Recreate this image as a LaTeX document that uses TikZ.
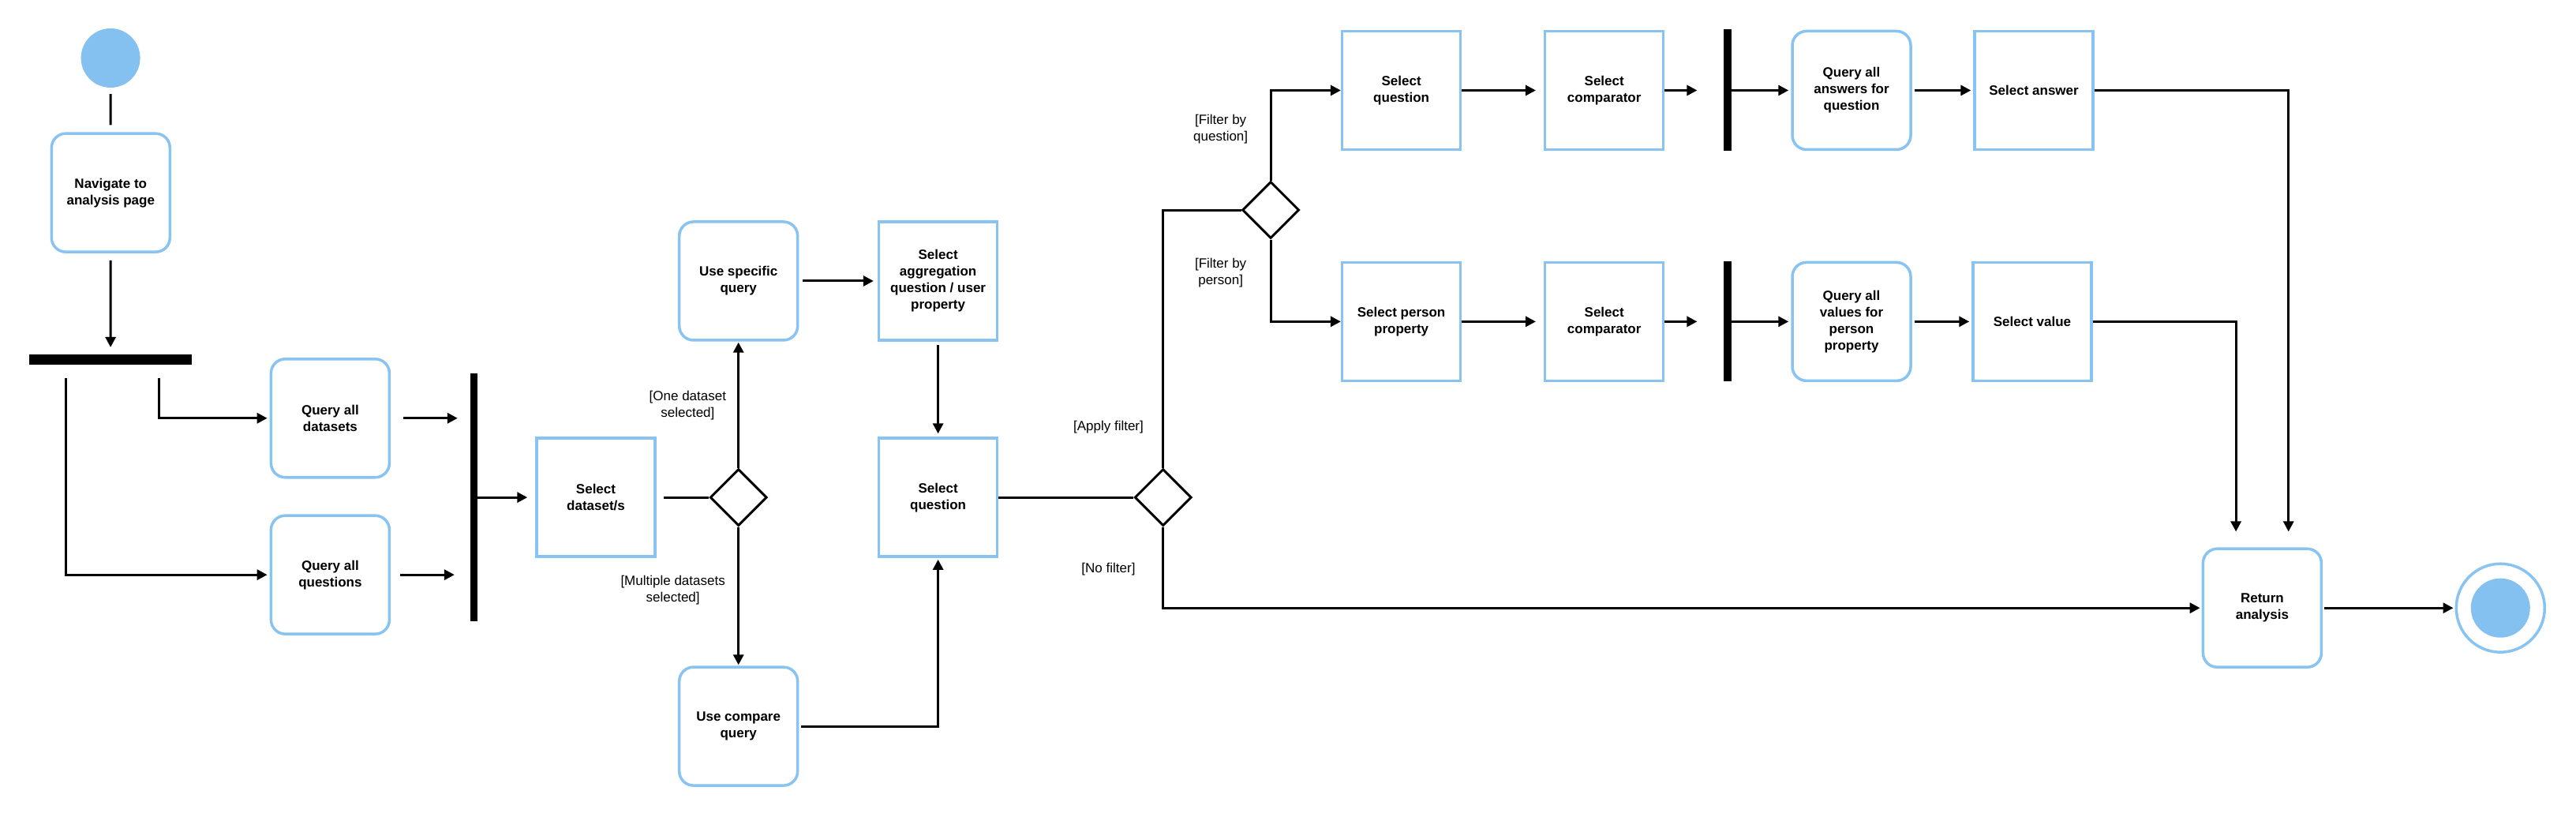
\documentclass[tikz,border=0pt]{standalone}
\usepackage{fontspec}
\setmainfont{Liberation Sans}
\usetikzlibrary{arrows.meta,shapes.geometric,calc}
\definecolor{boxblue}{HTML}{88C3F2}
\definecolor{fillblue}{HTML}{85C1F0}
\begin{document}
\begin{tikzpicture}[x=2.0816pt,y=-2.0816pt,
  every node/.style={font=\fontsize{17}{21}\selectfont},
  act/.style={draw=boxblue, line width=3.5pt, rounded corners=18pt, minimum width=150pt, minimum height=150pt, align=center, inner sep=0pt, font=\fontsize{17}{21}\selectfont\bfseries},
  sel/.style={draw=boxblue, line width=3.5pt, minimum width=150pt, minimum height=150pt, align=center, inner sep=0pt, font=\fontsize{17}{21}\selectfont\bfseries},
  bar/.style={fill=black, inner sep=0pt},
  dec/.style={diamond, draw=black, line width=3pt, minimum width=72pt, minimum height=72pt, inner sep=0pt},
  lbl/.style={align=center, inner sep=0pt},
  conn/.style={line width=3pt, -{Triangle[length=13pt,width=13pt]}},
  plain/.style={line width=3pt},
]
\fill[white] (0,0) rectangle (1568,497);
\useasboundingbox (0,0) rectangle (1568,497);

% nodes
\node[circle, fill=fillblue, minimum size=75pt, inner sep=0pt] (start) at (67.3,35.3) {};
\node[act] (nav) at (67.4,117.3) {Navigate to\\analysis page};
\node[bar, minimum width=206pt, minimum height=12.7pt] (fork1) at (67.3,218.8) {};
\node[act] (qds) at (201,254.5) {Query all\\datasets};
\node[act] (qq) at (201,349.8) {Query all\\questions};
\node[bar, minimum width=9pt, minimum height=313.5pt] (join1) at (288.5,302.7) {};
\node[sel] (selds) at (362.7,302.7) {Select\\dataset/s};
\node[dec] (d1) at (449.5,302.7) {};
\node[act] (usq) at (449.5,171) {Use specific\\query};
\node[act] (ucq) at (449.5,442) {Use compare\\query};
\node[sel] (agg) at (571,171) {Select\\aggregation\\question / user\\property};
\node[sel] (selq) at (571,302.7) {Select\\question};
\node[dec] (d2) at (708,302.7) {};
\node[dec] (d3) at (773.5,127.8) {};

\node[sel] (sq2) at (853,55) {Select\\question};
\node[sel] (sc1) at (976.5,55) {Select\\comparator};
\node[bar, minimum width=10.5pt, minimum height=154pt] (fork2) at (1051.5,55) {};
\node[act] (qa) at (1127,55) {Query all\\answers for\\question};
\node[sel] (sa) at (1238,55) {Select answer};

\node[sel] (spp) at (853,195.7) {Select person\\property};
\node[sel] (sc2) at (976.5,195.7) {Select\\comparator};
\node[bar, minimum width=10.5pt, minimum height=152pt] (fork3) at (1051.5,195.7) {};
\node[act] (qv) at (1127,195.7) {Query all\\values for\\person\\property};
\node[sel] (sv) at (1237,195.7) {Select value};

\node[act] (ret) at (1377,370) {Return\\analysis};
\node[circle, draw=boxblue, line width=3.5pt, minimum size=112pt, inner sep=0pt] (end) at (1522,370) {};
\node[circle, fill=fillblue, minimum size=75pt, inner sep=0pt] (endin) at (end) {};

% labels
\node[lbl] (l1) at (418.6,246.5) {[One dataset\\selected]};
\node[lbl] (l2) at (409.6,359) {[Multiple datasets\\selected]};
\node[lbl] (l3) at (674.7,260) {[Apply filter]};
\node[lbl] (l4) at (674.7,346.6) {[No filter]};
\node[lbl] (l5) at (743,78.8) {[Filter by\\question]};
\node[lbl] (l6) at (743,166) {[Filter by\\person]};

% connectors
\draw[plain, shorten <=8pt, shorten >=9pt] (start) -- (nav);
\draw[conn, shorten <=9pt, shorten >=9pt] (nav) -- (fork1);
\draw[conn, shorten <=17pt, shorten >=3pt] ($(fork1.south)+(29.5,0)$) |- (qds.west);
\draw[conn, shorten <=17pt, shorten >=3pt] ($(fork1.south)+(-27.3,0)$) |- (qq.west);
\draw[conn, shorten <=16pt, shorten >=16pt] (qds.east) -- (qds.east -| join1.west);
\draw[conn, shorten <=12pt, shorten >=20pt] (qq.east) -- (qq.east -| join1.west);
\draw[conn, shorten >=10pt] (join1.east |- selds.west) -- (selds.west);
\draw[plain, shorten <=9pt] (selds.east) -- (d1.west);
\draw[conn, shorten >=1pt] (d1.north) -- (usq.south);
\draw[conn, shorten >=1pt] (d1.south) -- (ucq.north);
\draw[conn, shorten <=5pt, shorten >=5pt] (usq.east) -- (agg.west);
\draw[conn, shorten <=4pt, shorten >=4pt] (agg.south) -- (selq.north);
\draw[conn, shorten <=3pt, shorten >=2pt] (ucq.east) -| (selq.south);
\draw[plain] (selq.east) -- (d2.west);
\draw[plain] (d2.north) |- (d3.west);
\draw[conn] (d3.north) |- (sq2.west);
\draw[conn] (d3.south) |- (spp.west);
\draw[conn, shorten >=10pt] (sq2.east) -- (sc1.west);
\draw[conn, shorten >=10pt] (spp.east) -- (sc2.west);
\draw[conn, shorten >=33pt] (sc1.east) -- (sc1.east -| fork2.west);
\draw[conn, shorten >=33pt] (sc2.east) -- (sc2.east -| fork3.west);
\draw[conn, shorten >=3pt] (fork2.east |- qa.west) -- (qa.west);
\draw[conn, shorten >=3pt] (fork3.east |- qv.west) -- (qv.west);
\draw[conn, shorten <=3pt, shorten >=3pt] (qa.east) -- (sa.west);
\draw[conn, shorten <=3pt, shorten >=3pt] (qv.east) -- (sv.west);
\draw[conn, shorten >=20pt] (sa.east) -| ($(ret.north)+(16,0)$);
\draw[conn, shorten >=20pt] (sv.east) -| ($(ret.north)+(-16,0)$);
\draw[conn, shorten >=2pt] (d2.south) |- (ret.west);
\draw[conn, shorten <=2pt, shorten >=2pt] (ret.east) -- (end.west);
\end{tikzpicture}
\end{document}
